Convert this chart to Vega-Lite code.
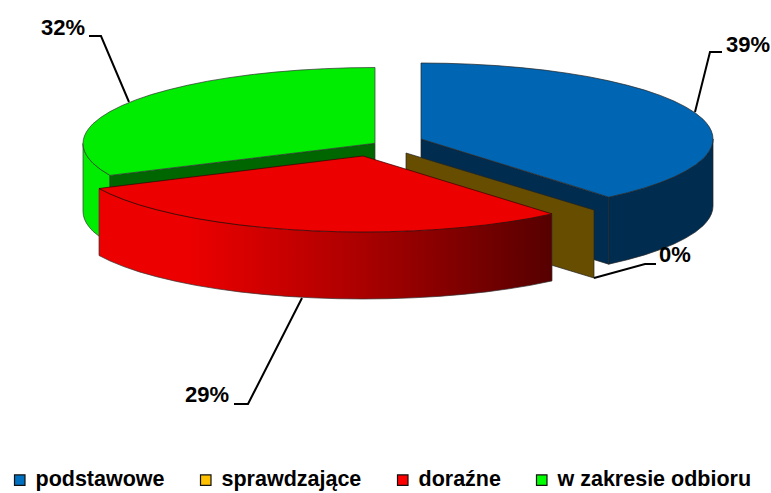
{
"$schema":"https://vega.github.io/schema/vega-lite/v6.json",
"width":771,"height":493,"padding":0,"autosize":"none","background":"white",
"config":{"view":{"stroke":null},"axis":{"domain":false,"grid":false}},
"datasets":{
"greenSide":[{"x":83,"y":143.5,"y2":211.5},{"x":83.4,"y":147.5,"y2":215.5},{"x":84.6,"y":151.4,"y2":219.4},{"x":86.6,"y":155.4,"y2":223.4},{"x":89.4,"y":159.3,"y2":227.3},{"x":92.9,"y":163.2,"y2":231.2},{"x":100.6,"y":169.5,"y2":237.5},{"x":110,"y":175.4,"y2":243.4}],
"greenInner":[{"x":110,"y":175.4,"y2":243.4},{"x":375,"y":143.3,"y2":211.3}],
"greenTop":[{"x":83,"y":143.5,"y2":143.5},{"x":83.4,"y":139.5,"y2":147.5},{"x":84.6,"y":135.6,"y2":151.4},{"x":86.6,"y":131.6,"y2":155.4},{"x":89.4,"y":127.7,"y2":159.3},{"x":92.9,"y":123.8,"y2":163.2},{"x":100.6,"y":117.5,"y2":169.5},{"x":110,"y":111.6,"y2":175.4},{"x":122.1,"y":105.5,"y2":173.9},{"x":135.8,"y":99.9,"y2":172.3},{"x":151.3,"y":94.6,"y2":170.4},{"x":168.5,"y":89.8,"y2":168.3},{"x":187.3,"y":85.3,"y2":166},{"x":207.5,"y":81.2,"y2":163.6},{"x":229,"y":77.7,"y2":161},{"x":251.6,"y":74.6,"y2":158.3},{"x":275.1,"y":72.1,"y2":155.4},{"x":299.4,"y":70.1,"y2":152.5},{"x":324.3,"y":68.7,"y2":149.5},{"x":349.6,"y":67.8,"y2":146.4},{"x":375,"y":67.5,"y2":143.3}],
"blueInner":[{"x":421,"y":139,"y2":206},{"x":608.7,"y":197.2,"y2":264.2}],
"blueSide":[{"x":608.7,"y":197.2,"y2":264.2},{"x":627.5,"y":192.7,"y2":259.7},{"x":644.7,"y":187.9,"y2":254.9},{"x":660.2,"y":182.6,"y2":249.6},{"x":673.9,"y":177,"y2":244},{"x":685.6,"y":171.1,"y2":238.1},{"x":695.4,"y":165,"y2":232},{"x":703.1,"y":158.7,"y2":225.7},{"x":706.6,"y":154.8,"y2":221.8},{"x":709.4,"y":150.9,"y2":217.9},{"x":711.4,"y":146.9,"y2":213.9},{"x":712.6,"y":143,"y2":210},{"x":713,"y":139,"y2":206}],
"blueTop":[{"x":421,"y":63,"y2":139},{"x":446.4,"y":63.3,"y2":146.8},{"x":471.7,"y":64.2,"y2":154.6},{"x":496.6,"y":65.6,"y2":162.3},{"x":520.9,"y":67.6,"y2":169.8},{"x":544.4,"y":70.1,"y2":177.1},{"x":567,"y":73.2,"y2":184},{"x":588.5,"y":76.7,"y2":190.7},{"x":608.7,"y":80.8,"y2":197.2},{"x":627.5,"y":85.3,"y2":192.7},{"x":644.7,"y":90.1,"y2":187.9},{"x":660.2,"y":95.4,"y2":182.6},{"x":673.9,"y":101,"y2":177},{"x":685.6,"y":106.9,"y2":171.1},{"x":695.4,"y":113,"y2":165},{"x":703.1,"y":119.3,"y2":158.7},{"x":706.6,"y":123.2,"y2":154.8},{"x":709.4,"y":127.1,"y2":150.9},{"x":711.4,"y":131.1,"y2":146.9},{"x":712.6,"y":135,"y2":143},{"x":713,"y":139,"y2":139}],
"brown":[{"x":406,"y":153,"y2":221},{"x":594,"y":210,"y2":278}],
"redSide":[{"x":99,"y":188.5,"y2":255.5},{"x":110.1,"y":194,"y2":261},{"x":123.8,"y":199.6,"y2":266.6},{"x":139.3,"y":204.9,"y2":271.9},{"x":156.5,"y":209.7,"y2":276.7},{"x":175.3,"y":214.2,"y2":281.2},{"x":195.5,"y":218.3,"y2":285.3},{"x":217,"y":221.8,"y2":288.8},{"x":239.6,"y":224.9,"y2":291.9},{"x":263.1,"y":227.4,"y2":294.4},{"x":287.4,"y":229.4,"y2":296.4},{"x":312.3,"y":230.8,"y2":297.8},{"x":337.6,"y":231.7,"y2":298.7},{"x":363,"y":232,"y2":299},{"x":388.4,"y":231.7,"y2":298.7},{"x":413.7,"y":230.8,"y2":297.8},{"x":438.6,"y":229.4,"y2":296.4},{"x":462.9,"y":227.4,"y2":294.4},{"x":486.4,"y":224.9,"y2":291.9},{"x":509,"y":221.8,"y2":288.8},{"x":530.5,"y":218.3,"y2":285.3},{"x":552,"y":213.9,"y2":280.9}],
"redTop":[{"x":99,"y":188.5,"y2":188.5},{"x":110.1,"y":187.1,"y2":194},{"x":123.8,"y":185.4,"y2":199.6},{"x":139.3,"y":183.5,"y2":204.9},{"x":156.5,"y":181.4,"y2":209.7},{"x":175.3,"y":179.1,"y2":214.2},{"x":195.5,"y":176.6,"y2":218.3},{"x":217,"y":174,"y2":221.8},{"x":239.6,"y":171.2,"y2":224.9},{"x":263.1,"y":168.3,"y2":227.4},{"x":287.4,"y":165.3,"y2":229.4},{"x":312.3,"y":162.2,"y2":230.8},{"x":337.6,"y":159.1,"y2":231.7},{"x":363,"y":156,"y2":232},{"x":388.4,"y":163.8,"y2":231.7},{"x":413.7,"y":171.5,"y2":230.8},{"x":438.6,"y":179.2,"y2":229.4},{"x":462.9,"y":186.6,"y2":227.4},{"x":486.4,"y":193.8,"y2":224.9},{"x":509,"y":200.7,"y2":221.8},{"x":530.5,"y":207.3,"y2":218.3},{"x":552,"y":213.9,"y2":213.9}],
"leaders":[
{"series":"podstawowe","o":1,"x":695,"y":112},{"series":"podstawowe","o":2,"x":710,"y":52},{"series":"podstawowe","o":3,"x":722,"y":52},
{"series":"sprawdzające","o":1,"x":594,"y":278},{"series":"sprawdzające","o":2,"x":645,"y":264},{"series":"sprawdzające","o":3,"x":656,"y":264},
{"series":"doraźne","o":1,"x":302,"y":298},{"series":"doraźne","o":2,"x":248,"y":404},{"series":"doraźne","o":3,"x":234,"y":404},
{"series":"w zakresie odbioru","o":1,"x":129,"y":102},{"series":"w zakresie odbioru","o":2,"x":101,"y":36},{"series":"w zakresie odbioru","o":3,"x":89,"y":36}],
"labels":[
{"series":"podstawowe","pct":"39%","x":726,"y":45},
{"series":"sprawdzające","pct":"0%","x":659,"y":255},
{"series":"doraźne","pct":"29%","x":185,"y":395},
{"series":"w zakresie odbioru","pct":"32%","x":41,"y":28}]
},
"encoding":{
"x":{"field":"x","type":"quantitative","axis":null,"scale":{"domain":[0,771],"nice":false,"zero":false}},
"y":{"field":"y","type":"quantitative","axis":null,"stack":null,"scale":{"domain":[0,493],"reverse":true,"nice":false,"zero":false}}
},
"layer":[
{"data":{"name":"greenSide"},"mark":{"type":"area","fill":"#00ec00","stroke":"#333","strokeWidth":0.7},"encoding":{"y2":{"field":"y2"}}},
{"data":{"name":"greenInner"},"mark":{"type":"area","fill":"#006600","stroke":"#333","strokeWidth":0.7},"encoding":{"y2":{"field":"y2"}}},
{"data":{"name":"greenTop"},"mark":{"type":"area","fill":"#00ec00","stroke":"#333","strokeWidth":0.7},"encoding":{"y2":{"field":"y2"}}},
{"data":{"name":"blueInner"},"mark":{"type":"area","fill":"#002c50","stroke":"#222","strokeWidth":0.7},"encoding":{"y2":{"field":"y2"}}},
{"data":{"name":"blueSide"},"mark":{"type":"area","fill":"#002c50","stroke":"#222","strokeWidth":0.7},"encoding":{"y2":{"field":"y2"}}},
{"data":{"name":"blueTop"},"mark":{"type":"area","fill":"#0066b3","stroke":"#222","strokeWidth":0.7},"encoding":{"y2":{"field":"y2"}}},
{"data":{"name":"brown"},"mark":{"type":"area","fill":"#664d00","stroke":"#222","strokeWidth":0.7},"encoding":{"y2":{"field":"y2"}}},
{"data":{"name":"redSide"},"mark":{"type":"area","stroke":"#333","strokeWidth":0.7,"fill":{"gradient":"linear","x1":0,"y1":0,"x2":1,"y2":0,"stops":[{"offset":0,"color":"#ec0000"},{"offset":0.2,"color":"#ec0000"},{"offset":0.55,"color":"#b00000"},{"offset":1,"color":"#560000"}]}},"encoding":{"y2":{"field":"y2"}}},
{"data":{"name":"redTop"},"mark":{"type":"area","fill":"#ec0000","stroke":"#300","strokeWidth":0.7},"encoding":{"y2":{"field":"y2"}}},
{"data":{"name":"leaders"},"mark":{"type":"line","color":"#000","strokeWidth":2},"encoding":{"detail":{"field":"series"},"order":{"field":"o","type":"ordinal"}}},
{"data":{"name":"labels"},"mark":{"type":"text","align":"left","baseline":"middle","font":"Liberation Sans","fontSize":22,"fontWeight":"bold","color":"#000"},"encoding":{"text":{"field":"pct"}}},
{"data":{"name":"labels"},"mark":{"type":"square","opacity":0},
"encoding":{"color":{"field":"series","type":"nominal",
"scale":{"domain":["podstawowe","sprawdzające","doraźne","w zakresie odbioru"],"range":["#0070c0","#ffc000","#ff0000","#00ff00"]},
"legend":{"title":null,"orient":"none","legendX":9,"legendY":469,"direction":"horizontal","columns":4,"padding":0,"columnPadding":30,"symbolType":"square","symbolSize":110,"symbolOpacity":1,"symbolStrokeColor":"#111","symbolStrokeWidth":1.2,"labelFont":"Liberation Sans","labelFontSize":21.5,"labelFontWeight":"bold","labelColor":"#000","labelLimit":300,"labelOffset":5}}}}
]
}
